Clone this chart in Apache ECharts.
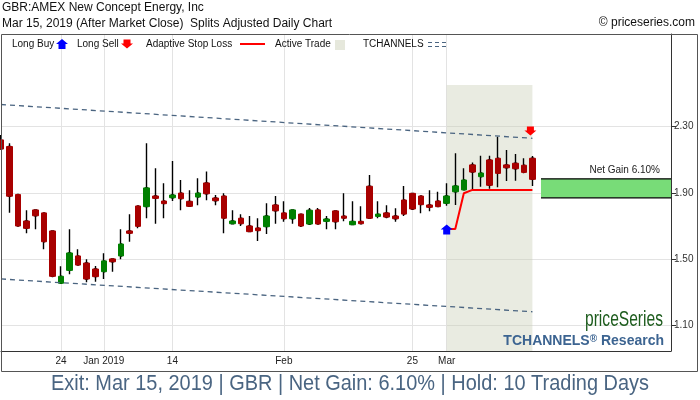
<!DOCTYPE html>
<html><head><meta charset="utf-8">
<script src="https://cdn.jsdelivr.net/npm/echarts@6/dist/echarts.min.js"></script>
<style>html,body{margin:0;padding:0;background:#fff;}#c{width:700px;height:400px;}</style>
</head><body><div id="c"></div>
<script>
const dates = ['2018-12-13','2018-12-14','2018-12-17','2018-12-18','2018-12-19','2018-12-20','2018-12-21','2018-12-24','2018-12-26','2018-12-27','2018-12-28','2018-12-31','2019-01-02','2019-01-03','2019-01-04','2019-01-07','2019-01-08','2019-01-09','2019-01-10','2019-01-11','2019-01-14','2019-01-15','2019-01-16','2019-01-17','2019-01-18','2019-01-22','2019-01-23','2019-01-24','2019-01-25','2019-01-28','2019-01-29','2019-01-30','2019-01-31','2019-02-01','2019-02-04','2019-02-05','2019-02-06','2019-02-07','2019-02-08','2019-02-11','2019-02-12','2019-02-13','2019-02-14','2019-02-15','2019-02-19','2019-02-20','2019-02-21','2019-02-22','2019-02-25','2019-02-26','2019-02-27','2019-02-28','2019-03-01','2019-03-04','2019-03-05','2019-03-06','2019-03-07','2019-03-08','2019-03-11','2019-03-12','2019-03-13','2019-03-14','2019-03-15'];
const opens = [2.22,2.18,1.89,1.73,1.797,1.779,1.67,1.354,1.432,1.519,
  1.476,1.44,1.424,1.501,1.519,1.67,1.821,1.817,1.881,1.851,
  1.871,1.899,1.849,1.875,1.96,1.869,1.881,1.714,1.747,1.70,
  1.688,1.696,1.827,1.779,1.744,1.772,1.712,1.797,1.728,1.791,
  1.76,1.708,1.728,1.94,1.758,1.779,1.76,1.857,1.897,1.881,
  1.827,1.851,1.837,1.907,1.918,2.069,1.998,2.099,2.109,2.069,
  2.079,2.067,2.109];
const closes = [2.165,1.88,1.70,1.686,1.762,1.605,1.396,1.396,1.537,1.464,
  1.38,1.394,1.489,1.484,1.591,1.656,1.698,1.93,1.867,1.835,
  1.887,1.865,1.819,1.899,1.895,1.853,1.747,1.73,1.714,1.666,
  1.672,1.76,1.792,1.744,1.797,1.70,1.795,1.712,1.742,1.726,
  1.747,1.728,1.714,1.747,1.772,1.754,1.744,1.772,1.803,1.829,
  1.813,1.817,1.881,1.942,1.978,2.026,2.02,1.946,2.018,2.052,
  2.046,2.024,1.982];
const lows = [2.16,1.78,1.695,1.656,1.68,1.559,1.39,1.354,1.408,1.464,
  1.36,1.363,1.38,1.424,1.499,1.605,1.686,1.747,1.714,1.747,
  1.851,1.795,1.819,1.825,1.855,1.825,1.656,1.714,1.70,1.666,
  1.609,1.652,1.714,1.726,1.714,1.694,1.706,1.712,1.68,1.68,
  1.728,1.708,1.714,1.747,1.747,1.747,1.726,1.76,1.797,1.777,
  1.789,1.817,1.823,1.827,1.918,1.922,1.937,1.925,1.934,1.972,
  1.974,2.018,1.942];
const highs = [2.25,2.20,1.89,1.795,1.797,1.779,1.67,1.457,1.68,1.559,
  1.499,1.458,1.535,1.501,1.68,1.771,1.821,2.20,2.049,1.958,
  2.093,1.978,1.916,1.988,2.03,1.887,1.898,1.795,1.771,1.76,
  1.747,1.837,1.881,1.849,1.797,1.772,1.809,1.809,1.76,1.791,
  1.898,1.849,1.819,2.008,1.849,1.825,1.807,1.942,1.897,1.881,
  1.916,1.907,1.958,2.139,2.049,2.083,2.125,2.125,2.24,2.159,
  2.135,2.109,2.123];

const tickDates = ['2018-12-24','2019-01-02','2019-01-14','2019-02-01','2019-02-25','2019-03-01'];
const tickLabels = ['24','Jan 2019','14','Feb','25','Mar'];
const yTicks = [1.10, 1.50, 1.90, 2.30];

const tradeDates = ['2019-03-01','2019-03-04','2019-03-05','2019-03-06','2019-03-07','2019-03-08','2019-03-11','2019-03-12','2019-03-13','2019-03-14','2019-03-15'];
const stopLoss = [1.682,1.682,1.898,1.918,1.918,1.918,1.918,1.918,1.918,1.918,1.918];
const entryDate = '2019-03-01', entryMarker = 1.679;
const exitDate = '2019-03-15', exitMarker = 2.274;
const channelDates = ['2018-12-13','2019-03-15'];
const upperChannel = [2.434, 2.230];
const lowerChannel = [1.380, 1.182];
const activeTop = 2.552;
const gainLow = 1.87, gainHigh = 1.985;

const yMin = 0.9447, yMax = 2.8601;
const xMax = 78.17;
const FONT = '"Liberation Sans", Arial, sans-serif';

const idx = d => dates.indexOf(d);
const tickIdx = tickDates.map(idx);
const wickData = dates.map((d,i) => [i, opens[i], closes[i], lows[i], highs[i]]);
const bodyData = dates.map((d,i) => [i, opens[i], closes[i], Math.min(opens[i],closes[i]), Math.max(opens[i],closes[i])]);
const entryIdx = idx(entryDate), exitIdx = idx(exitDate);
const upArrow = 'path://M6,0 L12,5 L9.5,5 L9.5,10 L2.5,10 L2.5,5 L0,5 Z';
const downArrow = 'path://M2.5,0 L9.5,0 L9.5,4 L12,4 L6,9 L0,4 L2.5,4 Z';

const mctx = document.createElement('canvas').getContext('2d');
function fitScale(text, font, width) { mctx.font = font; return width / mctx.measureText(text).width; }
const footerText = 'Exit: Mar 15, 2019 | GBR | Net Gain: 6.10% | Hold: 10 Trading Days';
const footerFont = '22px ' + FONT;
const footerScale = fitScale(footerText, footerFont, 598);
const brandText = 'priceSeries';
const brandFont = '22px ' + FONT;
const brandScale = fitScale(brandText, brandFont, 78);

const chart = echarts.init(document.getElementById('c'), null, {renderer:'canvas'});
chart.setOption({
  animation: false,
  backgroundColor: '#fff',
  grid: {left: 1, right: 29, top: 34, bottom: 49, containLabel: false, outerBoundsMode: 'none'},
  xAxis: {
    type: 'value', min: 0, max: xMax,
    axisLine: {show: true, onZero: false, lineStyle: {color: '#333', width: 1}},
    axisTick: {show: false, customValues: tickIdx},
    axisLabel: {customValues: tickIdx, formatter: v => tickLabels[tickIdx.indexOf(Math.round(v))] || '',
      fontSize: 10, color: '#222', margin: 5, fontFamily: FONT},
    splitLine: {show: true, lineStyle: {color: '#e3e3e3', width: 1}}
  },
  yAxis: {
    type: 'value', position: 'right', min: yMin, max: yMax, scale: true,
    axisLine: {show: true, onZero: false, lineStyle: {color: '#333', width: 1}},
    axisTick: {show: true, customValues: yTicks, length: 5, lineStyle: {color: '#333'}},
    axisLabel: {customValues: yTicks, formatter: v => v.toFixed(2), fontSize: 10, color: '#333', margin: 3, fontFamily: FONT},
    splitLine: {show: true, lineStyle: {color: '#e3e3e3', width: 1}}
  },
  series: [
    {
      name: 'Active Trade', type: 'line', data: [], silent: true,
      markArea: {silent: true, itemStyle: {color: 'rgba(200,205,180,0.4)'},
        data: [[{coord: [entryIdx, activeTop]}, {coord: [exitIdx, yMin]}]]}
    },
    {
      name: 'TCHANNELS upper', type: 'line', symbol: 'none', silent: true,
      data: channelDates.map((d,i) => [idx(d), upperChannel[i]]),
      lineStyle: {color: '#4a6480', width: 1.3, type: [5, 4]}
    },
    {
      name: 'TCHANNELS lower', type: 'line', symbol: 'none', silent: true,
      data: channelDates.map((d,i) => [idx(d), lowerChannel[i]]),
      lineStyle: {color: '#4a6480', width: 1.3, type: [5, 4]}
    },
    {
      name: 'wicks', type: 'candlestick', data: wickData, barWidth: 2, silent: true,
      itemStyle: {color: '#000', color0: '#000', borderColor: '#000', borderColor0: '#000', borderWidth: 1.4}
    },
    {
      name: 'bodies', type: 'candlestick', data: bodyData, barWidth: 6, silent: true,
      itemStyle: {color: '#008000', color0: '#a80000', borderColor: '#008000', borderColor0: '#a80000', borderWidth: 1}
    },
    {
      name: 'gain', type: 'custom', silent: true, clip: false,
      encode: {x: [0, 1], y: [2, 3]},
      data: [[exitIdx + 1, xMax, gainLow, gainHigh]],
      renderItem: (params, api) => {
        const a = api.coord([api.value(0), api.value(2)]);
        const b = api.coord([api.value(1), api.value(3)]);
        return {type: 'group', children: [
          {type: 'rect', shape: {x: a[0], y: b[1], width: b[0]-a[0], height: a[1]-b[1]}, style: {fill: '#78dc78'}},
          {type: 'line', shape: {x1: a[0], y1: b[1], x2: b[0], y2: b[1]}, style: {stroke: '#000', lineWidth: 1.3}},
          {type: 'line', shape: {x1: a[0], y1: a[1], x2: b[0], y2: a[1]}, style: {stroke: '#000', lineWidth: 1.3}}
        ]};
      }
    },
    {
      name: 'Adaptive Stop Loss', type: 'line', symbol: 'none', silent: true,
      data: tradeDates.map((d,i) => [idx(d), stopLoss[i]]),
      lineStyle: {color: '#ff0000', width: 2}
    },
    {
      name: 'Long Buy', type: 'scatter', symbol: upArrow, symbolSize: [12, 10], silent: true,
      data: [[entryIdx, entryMarker]], itemStyle: {color: '#0000ff', opacity: 1}, z: 5
    },
    {
      name: 'Long Sell', type: 'scatter', symbol: downArrow, symbolSize: [12, 9], symbolOffset: [-2, 0], silent: true,
      data: [[exitIdx, exitMarker]], itemStyle: {color: '#ff0000', opacity: 1}, z: 5
    }
  ],
  graphic: [
    {type: 'text', z: 10, style: {text: 'GBR:AMEX New Concept Energy, Inc', x: 2, y: 8, verticalAlign: 'middle', font: '12px ' + FONT, fill: '#111'}},
    {type: 'text', z: 10, style: {text: 'Mar 15, 2019 (After Market Close)  Splits Adjusted Daily Chart', x: 2, y: 24, verticalAlign: 'middle', font: '12px ' + FONT, fill: '#111'}},
    {type: 'text', z: 10, style: {text: '\u00A9 priceseries.com', x: 695, y: 23, align: 'right', verticalAlign: 'middle', font: '12px ' + FONT, fill: '#111'}},
    {type: 'rect', z: 20, shape: {x: 1.5, y: 34.5, width: 696, height: 337}, style: {fill: 'transparent', stroke: '#555', lineWidth: 1}},
    {type: 'text', z: 10, style: {text: 'Long Buy', x: 12, y: 44, verticalAlign: 'middle', font: '10px ' + FONT, fill: '#111'}},
    {type: 'polygon', z: 10, shape: {points: [[62,39],[68,44],[65.5,44],[65.5,49],[58.5,49],[58.5,44],[56,44]]}, style: {fill: '#0000ff'}},
    {type: 'text', z: 10, style: {text: 'Long Sell', x: 77, y: 44, verticalAlign: 'middle', font: '10px ' + FONT, fill: '#111'}},
    {type: 'polygon', z: 10, shape: {points: [[123.5,39.5],[130.5,39.5],[130.5,43.5],[133,43.5],[127,48.5],[121,43.5],[123.5,43.5]]}, style: {fill: '#ff0000'}},
    {type: 'text', z: 10, style: {text: 'Adaptive Stop Loss', x: 146, y: 44, verticalAlign: 'middle', font: '10px ' + FONT, fill: '#111'}},
    {type: 'line', z: 10, shape: {x1: 240, y1: 44, x2: 265, y2: 44}, style: {stroke: '#ff0000', lineWidth: 2}},
    {type: 'text', z: 10, style: {text: 'Active Trade', x: 275, y: 44, verticalAlign: 'middle', font: '10px ' + FONT, fill: '#111'}},
    {type: 'rect', z: 10, shape: {x: 335, y: 40, width: 10, height: 10}, style: {fill: '#e6e8dc'}},
    {type: 'text', z: 10, style: {text: 'TCHANNELS', x: 363, y: 44, verticalAlign: 'middle', font: '10px ' + FONT, fill: '#111'}},
    {type: 'line', z: 10, shape: {x1: 428, y1: 42.5, x2: 447, y2: 42.5}, style: {stroke: '#4a6480', lineWidth: 1, lineDash: [4, 3]}},
    {type: 'line', z: 10, shape: {x1: 428, y1: 46.5, x2: 447, y2: 46.5}, style: {stroke: '#4a6480', lineWidth: 1, lineDash: [4, 3]}},
    {type: 'text', z: 10, style: {text: 'Net Gain 6.10%', x: 660, y: 170, align: 'right', verticalAlign: 'middle', font: '10px ' + FONT, fill: '#222'}},
    {type: 'text', z: 10, x: 663, y: 320, scaleX: brandScale, style: {text: brandText, x: 0, y: 0, align: 'right', verticalAlign: 'middle', font: brandFont, fill: '#1d5c1d'}},
    {type: 'text', z: 10, style: {text: '{a|TCHANNELS}{b|\u00AE}{a| Research}', x: 664, y: 341, align: 'right', verticalAlign: 'middle',
      rich: {a: {fontFamily: FONT, fontWeight: 'bold', fontSize: 14, fill: '#3c6491'}, b: {fontFamily: FONT, fontWeight: 'bold', fontSize: 10, fill: '#3c6491', verticalAlign: 'top'}}}},
    {type: 'text', z: 10, x: 350, y: 384, scaleX: footerScale, style: {text: footerText, x: 0, y: 0, align: 'center', verticalAlign: 'middle', font: footerFont, fill: '#4a6582'}}
  ]
});
</script>
</body></html>
